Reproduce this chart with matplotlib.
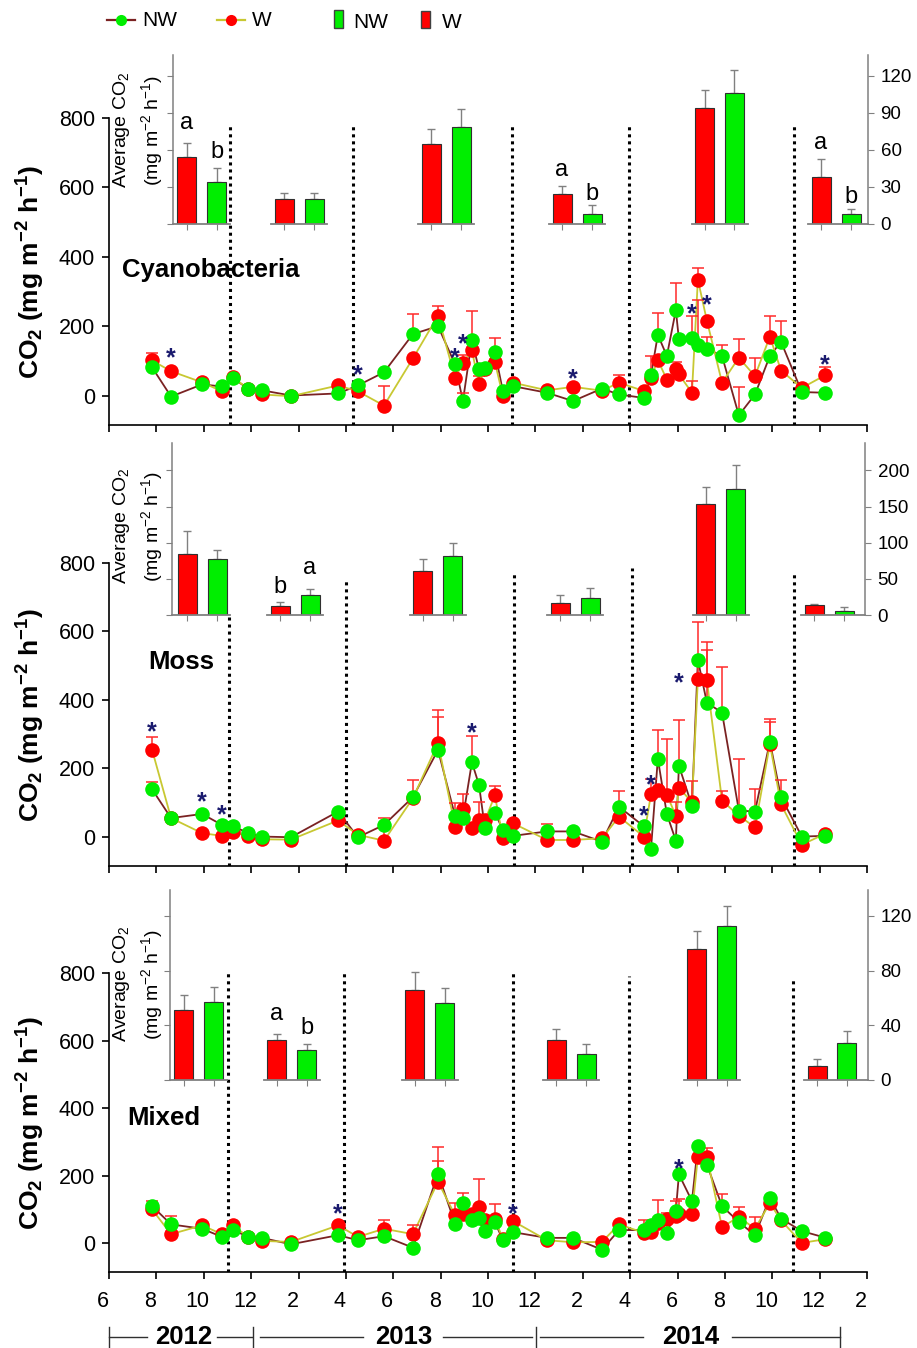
import matplotlib
matplotlib.use('Agg')
import matplotlib.pyplot as plt
import matplotlib.transforms as mtransforms
from matplotlib.patches import Rectangle
import numpy as np

plt.rcParams['font.family'] = ['Liberation Sans', 'DejaVu Sans']
plt.rcParams['mathtext.fontset'] = 'custom'
plt.rcParams['mathtext.rm'] = 'Liberation Sans'
plt.rcParams['mathtext.it'] = 'Liberation Sans:italic'
plt.rcParams['mathtext.bf'] = 'Liberation Sans:bold'

# ---------------- DATA ----------------
# sampling dates in months counted from Jan 2012 (13 = Jan 2013, 25 = Jan 2014)
dates = [7.82, 8.62, 9.93, 10.77, 11.23, 11.87, 12.46, 13.68, 15.67, 16.51,
         17.61, 18.83, 19.89, 20.61, 20.94, 21.32, 21.62, 21.87, 22.29, 22.63,
         23.05, 24.49, 25.59, 26.81, 27.53, 28.58, 28.88, 29.17, 29.55, 29.93,
         30.06, 30.61, 30.86, 31.24, 31.88, 32.59, 33.27, 33.90, 34.37, 35.25, 36.22]

cyano_W = [101, 70, 38, 12, 52, 20, 3, -2, 29, 12,
           -29, 107, 230, 51, 95, 130, 32, 75, 97, -2,
           37, 15, 25, 14, 37, 13, 51, 102, 46, 75,
           61, 8, 334, 216, 37, 109, 56, 170, 72, 22, 58]
cyano_NW = [81, -3, 32, 26, 50, 20, 15, 0, 6, 29,
            67, 177, 200, 90, -16, 160, 75, 78, 126, 12,
            27, 8, -16, 20, 3, -7, 58, 175, 114, 246,
            162, 165, 145, 135, 114, -57, 3, 114, 155, 10, 8]
cyano_W_err = [21, 0, 0, 0, 0, 0, 0, 0, 0, 0,
               55, 0, 29, 0, 21, 113, 24, 0, 0, 0,
               0, 0, 0, 0, 21, 0, 63, 0, 0, 21,
               0, 33, 33, 0, 0, 53, 53, 60, 0, 0, 25]
cyano_NW_err = [0, 0, 0, 0, 0, 0, 0, 0, 0, 0,
                0, 58, 0, 0, 24, 0, 0, 0, 39, 0,
                0, 0, 0, 0, 0, 0, 0, 63, 0, 79,
                0, 63, 131, 35, 31, 81, 0, 0, 60, 0, 0]

moss_W = [254, 55, 11, 3, 13, 3, -7, -8, 48, 6,
          -11, 113, 274, 30, 81, 25, 50, 48, 121, -4,
          40, -9, -9, -4, 59, 1, 124, 137, 123, 62,
          144, 101, 460, 458, 106, 62, 28, 271, 95, -23, 9]
moss_NW = [139, 55, 67, 35, 32, 11, 1, -1, 74, -1,
           35, 116, 254, 61, 55, 218, 152, 25, 71, 20,
           3, 16, 16, -14, 88, 31, -36, 228, 67, -11,
           208, 91, 517, 392, 363, 77, 74, 278, 116, 1, 3]
moss_W_err = [39, 0, 0, 0, 0, 0, 0, 0, 0, 0,
              66, 0, 97, 0, 45, 0, 51, 0, 28, 0,
              0, 0, 0, 0, 0, 0, 46, 0, 163, 40,
              0, 63, 168, 112, 29, 165, 0, 73, 71, 0, 0]
moss_NW_err = [22, 0, 0, 0, 0, 0, 0, 0, 0, 0,
               0, 50, 97, 37, 0, 77, 0, 0, 0, 0,
               0, 22, 0, 0, 47, 0, 0, 84, 0, 0,
               134, 0, 0, 154, 132, 0, 66, 59, 0, 0, 0]

mixed_W = [100, 27, 53, 27, 53, 19, 7, 4, 53, 19,
           43, 27, 182, 83, 88, 86, 108, 70, 73, 12,
           66, 9, 3, 4, 56, 31, 33, 60, 71, 80,
           86, 86, 256, 256, 48, 78, 43, 119, 68, 1, 12]
mixed_NW = [110, 56, 43, 19, 40, 19, 16, -3, 24, 9,
            21, -13, 206, 58, 119, 68, 75, 36, 63, 9,
            33, 16, 16, -19, 39, 39, 53, 68, 30, 96,
            204, 125, 288, 233, 110, 63, 24, 135, 73, 36, 17]
mixed_W_err = [0, 0, 0, 0, 0, 0, 0, 0, 0, 0,
               25, 26, 102, 37, 0, 0, 81, 0, 42, 0,
               0, 0, 0, 0, 0, 37, 0, 0, 18, 0,
               45, 0, 0, 25, 0, 30, 35, 0, 0, 0, 0]
mixed_NW_err = [15, 24, 0, 0, 0, 0, 0, 0, 0, 0,
                0, 0, 38, 0, 30, 0, 0, 0, 0, 0,
                0, 0, 0, 0, 0, 0, 0, 59, 0, 30,
                0, 0, 0, 0, 37, 0, 0, 0, 0, 0, 0]

# significance stars (index of sampling date, height of star)
cyano_star_idx = [1, 9, 13, 14, 22, 31, 33, 40]
cyano_star_y = [128, 81, 128, 170, 67, 255, 281, 110]
moss_star_idx = [0, 2, 3, 15, 25, 26, 30]
moss_star_y = [327, 123, 85, 324, 82, 172, 470]
mixed_star_idx = [8, 20, 30]
mixed_star_y = [108, 108, 241]

# season averages (inset bars)
cyano_avg_W = [54, 20, 65, 24, 94, 38]
cyano_avg_W_err = [12, 5, 12, 7, 15, 15]
cyano_avg_NW = [34, 20, 79, 8, 106, 8]
cyano_avg_NW_err = [11, 5, 14, 7, 19, 4]
moss_avg_W = [84, 12, 61, 17, 154, 14]
moss_avg_W_err = [32, 6, 16, 10, 23, 1]
moss_avg_NW = [77, 27, 82, 24, 175, 5]
moss_avg_NW_err = [13, 9, 17, 13, 32, 6]
mixed_avg_W = [51, 29, 66, 29, 96, 10]
mixed_avg_W_err = [11, 5, 13, 8, 13, 5]
mixed_avg_NW = [57, 22, 56, 19, 113, 27]
mixed_avg_NW_err = [11, 4, 11, 7, 14, 9]

# letters of significance on inset bars: (group, W letter, NW letter)
cyano_letters = [(0, 'a', 'b'), (3, 'a', 'b'), (5, 'a', 'b')]
moss_letters = [(1, 'b', 'a')]
mixed_letters = [(1, 'a', 'b')]

panel_names = ['Cyanobacteria', 'Moss', 'Mixed']
month_ticks = [6, 8, 10, 12, 14, 16, 18, 20, 22, 24, 26, 28, 30, 32, 34, 36, 38]
month_labels = ['6', '8', '10', '12', '2', '4', '6', '8', '10', '12',
                '2', '4', '6', '8', '10', '12', '2']
years = ['2012', '2013', '2014']

# ---------------- STYLE / LAYOUT ----------------
RED = '#FF0000'
GREEN = '#00EE00'
BROWN = '#7A2222'
YELLOW = '#C8C832'
ERRC = '#FF2A2A'
NAVY = '#1A1A6E'
GRAY = '#808080'

W_px, H_px = 917, 1348
fig = plt.figure(figsize=(W_px / 100, H_px / 100), dpi=100)


def fx(px):
    return px / W_px


def fy(py):
    return 1 - py / H_px


X0, X1 = 109, 867


def month(px):
    return 6 + (px - X0) * 32.0 / (X1 - X0)


panel_rows = [(118, 425), (563, 866), (973, 1272)]
inset_boxes = [(173, 868, 55, 224), (172, 865, 443, 615), (170, 868, 890, 1080)]
inset_ylim = [137, 238, 139]
inset_ticks = [[0, 30, 60, 90, 120], [0, 50, 100, 150, 200], [0, 40, 80, 120]]
group_px = [[201.5, 299, 446, 577, 719.5, 836],
            [202, 295, 437.5, 575, 720.5, 829],
            [198.5, 291.5, 429.5, 571, 711.5, 832]]
letter_y = [[(82, 58), (44, 24), (66, 22)], [(39, 65)], [(48, 38)]]
vline_px = [[230, 353, 512, 629, 794], [229, 346, 514, 632, 794], [228, 344, 513, 629, 793]]
vline_top = [[780] * 5, [642, 750, 774, 785, 774], [800, 800, 800, 790, 785]]
name_pos = [(122, 270), (148, 662), (127, 1118)]
inlabel_y = [130, 526, 984]
STAR_FS = 18

series = [
    (cyano_W, cyano_NW, cyano_W_err, cyano_NW_err, cyano_star_idx, cyano_star_y,
     cyano_avg_W, cyano_avg_W_err, cyano_avg_NW, cyano_avg_NW_err, cyano_letters),
    (moss_W, moss_NW, moss_W_err, moss_NW_err, moss_star_idx, moss_star_y,
     moss_avg_W, moss_avg_W_err, moss_avg_NW, moss_avg_NW_err, moss_letters),
    (mixed_W, mixed_NW, mixed_W_err, mixed_NW_err, mixed_star_idx, mixed_star_y,
     mixed_avg_W, mixed_avg_W_err, mixed_avg_NW, mixed_avg_NW_err, mixed_letters),
]

d = np.array(dates)
star_off = mtransforms.ScaledTranslation(0, -0.58 * STAR_FS / 72, fig.dpi_scale_trans)

for k in range(3):
    (vW, vNW, eW, eNW, sidx, sy, aW, aWe, aNW, aNWe, letters) = series[k]
    top, bot = panel_rows[k]
    ax = fig.add_axes([fx(X0), fy(bot), (X1 - X0) / W_px, (bot - top) / H_px])
    ax.set_xlim(6, 38)
    ax.set_ylim(-85, 800)
    ax.patch.set_alpha(0)
    for s in ['top', 'right']:
        ax.spines[s].set_visible(False)
    for s in ['left', 'bottom']:
        ax.spines[s].set_linewidth(1.2)
    ax.set_xticks(month_ticks)
    ax.set_yticks([0, 200, 400, 600, 800])
    ax.tick_params(direction='out', length=5, width=1.2, labelsize=15.5, pad=5)
    if k < 2:
        ax.tick_params(axis='x', labelbottom=False)
    else:
        ax.set_xticklabels(month_labels)
        ax.tick_params(axis='x', pad=9)
        off = mtransforms.ScaledTranslation(-6 / 100, 0, fig.dpi_scale_trans)
        for lab in ax.get_xticklabels():
            lab.set_transform(lab.get_transform() + off)

    # season separators
    ax.vlines([month(p) for p in vline_px[k]], -85, vline_top[k], colors='black',
              linestyles=(0, (1, 1.3)), linewidth=2.2, zorder=1)

    W_arr = np.array(vW, float)
    NW_arr = np.array(vNW, float)
    ax.plot(d, NW_arr, color=BROWN, lw=1.3, zorder=2)
    ax.plot(d, W_arr, color=YELLOW, lw=1.3, zorder=2)
    for vals, errs in ((W_arr, eW), (NW_arr, eNW)):
        errs = np.array(errs, float)
        m = errs > 0
        ax.errorbar(d[m], vals[m], yerr=[np.zeros(m.sum()), errs[m]], fmt='none',
                    ecolor=ERRC, elinewidth=1.1, capsize=4.3, capthick=1.1, zorder=3)
    ax.plot(d, W_arr, 'o', color=RED, ms=10.5, mec='none', zorder=4)
    ax.plot(d, NW_arr, 'o', color=GREEN, ms=10.5, mec='none', zorder=5)

    for i, yv in zip(sidx, sy):
        ax.text(d[i], yv, '*', color=NAVY, fontsize=STAR_FS, fontweight='bold',
                ha='center', va='baseline', transform=ax.transData + star_off, zorder=6)

    ax.set_ylabel(r'CO$_\mathbf{2}$ (mg m$^\mathbf{-2}$ h$^\mathbf{-1}$)',
                  fontsize=19, fontweight='bold')
    ax.yaxis.set_label_coords(-0.082, 0.5)

    fig.text(fx(name_pos[k][0]), fy(name_pos[k][1]), panel_names[k], fontsize=18.5,
             fontweight='bold', ha='left', va='center')

    # ---- inset bars ----
    l, r, t, b = inset_boxes[k]
    iax = fig.add_axes([fx(l), fy(b), (r - l) / W_px, (b - t) / H_px])
    iax.patch.set_alpha(0)
    iax.set_xlim(month(l), month(r))
    iax.set_ylim(0, inset_ylim[k])
    iax.spines['top'].set_visible(False)
    iax.spines['bottom'].set_visible(False)
    for s in ['left', 'right']:
        iax.spines[s].set_color(GRAY)
        iax.spines[s].set_linewidth(1.1)
    centers = np.array([month(p) for p in group_px[k]])
    offm = 15 * 32.0 / (X1 - X0)
    bw = 19 * 32.0 / (X1 - X0)
    iax.bar(centers - offm, aW, bw, color=RED, edgecolor='#303030', linewidth=0.8, zorder=3)
    iax.bar(centers + offm, aNW, bw, color=GREEN, edgecolor='#303030', linewidth=0.8, zorder=3)
    iax.errorbar(centers - offm, aW, yerr=[np.zeros(6), aWe], fmt='none', ecolor=GRAY,
                 elinewidth=1, capsize=3, capthick=1, zorder=2)
    iax.errorbar(centers + offm, aNW, yerr=[np.zeros(6), aNWe], fmt='none', ecolor=GRAY,
                 elinewidth=1, capsize=3, capthick=1, zorder=2)
    halfw = 28 * 32.0 / (X1 - X0)
    for gi, c in enumerate(centers):
        x_lo = month(l) if gi == 0 else c - halfw
        x_hi = month(r) if gi == len(centers) - 1 else c + halfw
        iax.plot([x_lo, x_hi], [0, 0], color=GRAY, lw=1.3, clip_on=False, zorder=4)
    iax.set_xticks(np.concatenate([centers - offm, centers + offm]))
    iax.tick_params(axis='x', length=4, direction='out', color=GRAY, labelbottom=False)
    iax.set_yticks(inset_ticks[k])
    iax.tick_params(axis='y', left=True, right=True, labelleft=False, labelright=True,
                    direction='out', length=4, color=GRAY, labelsize=13.5, pad=5)
    for (g, lw_, lnw), (yw, ynw) in zip(letters, letter_y[k]):
        iax.text(centers[g] - offm, yw, lw_, fontsize=17, ha='center', va='center')
        iax.text(centers[g] + offm, ynw, lnw, fontsize=17, ha='center', va='center')
    fig.text(fx(138), fy(inlabel_y[k]),
             'Average CO$_2$\n(mg m$^{-2}$ h$^{-1}$)', rotation=90, fontsize=14,
             ha='center', va='center', multialignment='center', linespacing=1.4)

# ---------------- overlay: legend and year brackets ----------------
ov = fig.add_axes([0, 0, 1, 1])
ov.set_xlim(0, W_px)
ov.set_ylim(H_px, 0)
ov.axis('off')
ov.patch.set_alpha(0)

ov.plot([107, 135], [20, 20], color=BROWN, lw=1.6)
ov.plot([121], [20], 'o', color=GREEN, ms=8, mec='none')
ov.text(142, 21, 'NW', fontsize=15, va='center', ha='left')
ov.plot([217, 245], [20, 20], color=YELLOW, lw=1.6)
ov.plot([231], [20], 'o', color=RED, ms=8, mec='none')
ov.text(252, 20, 'W', fontsize=15, va='center', ha='left')
ov.add_patch(Rectangle((334, 10), 9, 18, facecolor=GREEN, edgecolor='#404040', lw=1))
ov.text(353, 23, 'NW', fontsize=15, va='center', ha='left')
ov.add_patch(Rectangle((421, 11), 9, 17, facecolor=RED, edgecolor='#404040', lw=1))
ov.text(442, 22, 'W', fontsize=15, va='center', ha='left')

yb = 1337
for x0_, x1_ in [(109, 147), (217, 252), (260, 363), (443, 532), (540, 643), (732, 840)]:
    ov.plot([x0_, x1_], [yb, yb], color='#303030', lw=1)
for xv in [109, 253, 536, 840]:
    ov.plot([xv, xv], [1327, 1347], color='#303030', lw=1)
for xc, yr in zip([184, 404, 691], years):
    ov.text(xc, yb, yr, fontsize=18.5, fontweight='bold', ha='center', va='center')

fig.savefig('out.png', dpi=100, facecolor='white')
